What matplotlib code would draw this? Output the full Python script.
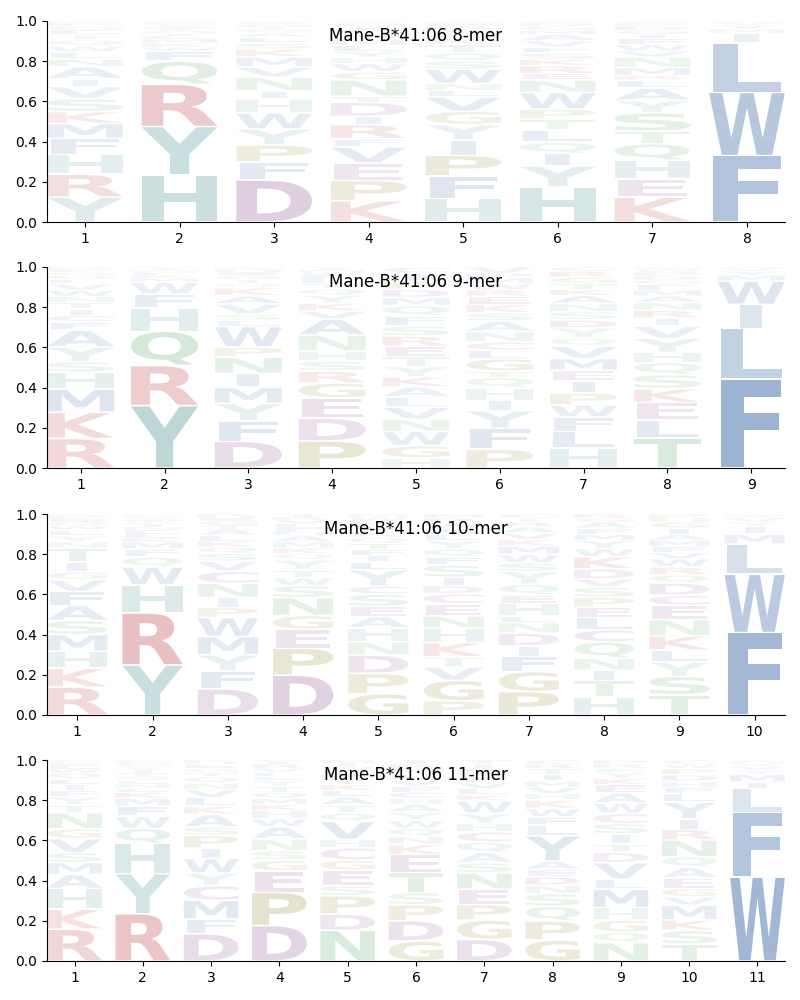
import matplotlib
matplotlib.use('Agg')
import matplotlib.pyplot as plt
from matplotlib.textpath import TextPath
from matplotlib.patches import PathPatch
from matplotlib.font_manager import FontProperties
from matplotlib.transforms import Affine2D

# letters per position, bottom -> top, value = percent of the column
allele = 'Mane-B*41:06'
lengths = [8, 9, 10, 11]

mer8 = [
    "Y12.5 R11.5 H10 F8 M7.5 K6 S6.5 V6 I4 A6 N4 L3.5 W3 Q3 T3 E2 G2 P1.5 C0.5 D0.5",
    "H23.5 Y24 R21 Q11.5 F5 W2 K2 M2 L1.5 I1 N1 S1 T1 E0.5 V0.5 A0.5 G0.5 P0.5 D0.5 C0.5",
    "D21 F9 P8.5 Y8 W8 H7 I4 N7 V5 M5 K4 S3 L3 A2 Q2 T1.5 G1 E0.5 R0.5 C0.5",
    "K10.5 P10 E8.5 V8 F4 R7 I4 D7 T3 N8 G4 W4 H3 Y3 L3 M3 S3 A3 Q2 C1",
    "H11.5 F11 P10 I7.5 Y7.5 G6.5 V7 L3 N3.5 W7 S4 Q4 T4 K3 M2.5 A2 R1.5 E1 D1 C0.5",
    "H17 Y10 I6 Q5.5 L6 T5 P5 W8 N6 E3 R4 K3 S3 F3 V3 A3 M2 G2 D1.5 C1",
    "K12 E9 H9 Q8 T6 S9 Y6 A6 L4 R2 M4 N5 V3 W3 F3 I2 G2 D2 P1.5 C1",
    "F33 W31.5 L24.5 I5 M2 Y2 V1.5 A0.3 H0.2",
]

mer9 = [
    "R14 K12.5 M11 H8 S5 Y7 A8 F4 C3 I3 T3 N3 W3 V3 L2 Q2 G1.5 E1 P1 D0.5",
    "Y31 R20 Q17 H11.5 F7 W6 M2 K1.5 L1 N1 S0.5 T0.5 I0.5 V0.5",
    "D13 F10 Y8.5 M8 I6.5 N8 P5 W10 L3 S3 V5 A4 K4 Q2 T2 G2 E1.5 H1 R1 C0.5",
    "P13.5 D11.5 E10 G7.5 R6 S5 H5 N8 A8 V4 K4 Y4 Q3 T3 L2 F2 W1.5 M1 I1 C0.5",
    "H5 G6 W7 N6 V6 L5 A5 K5 Y5 T5 E5 R5 S5 F5 Q5 M4 D4 P4 I4 C3",
    "P9 F10 Y8.5 I5 H6 Q5 T3 G6 L4 C4 N5 A5 S4 K4 E4 R3 W3 M3 D2 V3",
    "H10 L8 F7 W6 P6 I6 E5 M6 V6 Q4 Y5 D4 S4 N4 A4 K3 T3 G3 R3 C2",
    "T15 L9 E8.5 K7 S7 Q6 H5 Y7 V6 I4 R4 N4 A3 M3 F3 G2 D2 P2 W1.5 C1",
    "F44 L25 I12 W11.5 M3 Y2 V1.5 A0.5",
]

mer10 = [
    "R14 K9.5 H8.5 M8.5 S7 A7.5 F7 V6 G4 I5 T7 N3 Y3 L3 W2 Q2 E1.5 P1 D1 C0.5",
    "Y25 R26 H14 W9 Q5 F4 M3.5 K2 L2 E2 N1.5 I1.5 S1 T1 A0.5 V0.5 D0.5 G0.5 P0.5 C0.5",
    "D13 F9 Y8 M9 W9.5 P5 I5 N7 C6 V5 S4 Q3 K3 L3 A3 T2 G2 E1.5 H1 R1",
    "D20 P13.5 E9.5 G7 N9 S6 W4 T4 Y5 Q3 K3 M3 A3 H2 F2 L2 V2 R1.5 I1 C0.5",
    "G10.5 P10 D9 N6.5 H7 A5.5 E5 S6 C4 Y8 L4 I3 F3 T3 Q3 K3 V3 R2 W2 M1.5",
    "P7 G10 V6.5 T5 K7 H7 N6 E6 C5 D4 I4 S6 F4 Q4 Y4 L3 A3 W3 R2 M2",
    "P11 G9.5 F7 I5 D6 N5 L3 H6 E4 Q5 Y6 S4 W4 M4 K3 V3 A3 R2 T2 C2",
    "H9 T8 I5 N6 Q8 C6 L6 E5 P5 S5 V4 D5 K6 W4 Y4 M3 F3 A3 G2 R2",
    "T10 S9 Y7 L6 K7 N8 E7 C5 D6 Q4 R4 W4 V3 F3 M3 A3 I3 G3 H2 P2",
    "F41 W29 L15 M5 I4 Y2 V2 A1 H0.5 C0.5",
]

mer11 = [
    "R16 K10 H10.5 A7 M6 S5 V7 G5 N8 T4 Y4 F3 I3 L3 Q3 W2 E2 D1 P1 C0.5",
    "R23.5 Y20 H15 Q7.5 W6 F5 M4 K3 L2 N2 E2 S2 T1.5 I1.5 A1 V1 G1 D1 P0.5 C0.5",
    "D13 F7 M9 C7 Y6 W7 I5 P6 S4 A6 K4 L4 V4 N3 Q3 T2 G2 E2 H1 R1",
    "D17.5 P16.5 E10.5 G5.5 S4.5 N6 A6 W4 H4 K3 M3 Q3 T3 Y3 L2 F2 V2 R2 I1 C1",
    "N15 D8 P9 S5 E7.5 G5 C6 H4 V9 Q4 T4 A4 L3 K3 Y3 R2 F2 W2 I1.5 M1.5",
    "G10 D10 P8 S6 T10 E9 K5 N4 Q4 W4 Y4 A4 H3 C3 F3 V3 L3 M3 R2 I2",
    "D10.5 G9.5 P7.5 E7.5 N8 S5 A5 Q5 C5 H4 Y5 W6 K3 L3 V3 F3 M2 R2 I2 T2",
    "G10 P9 Q7 S6 N4 D4 E3.5 A4 Y12 L5 F4 W4 K4 H3 V3 M3 I3 T3 R2 C2",
    "N9 Q5 G6 H6 M9 L5 V8 D5 T4 I5 S5 C5 W5 A5 E4 K3 Y3 F2 R2 P2",
    "T8 S6.5 K5 M7 V4 G4 E5 A5 Q5 N8 R5 I5 Y8 L4 F3 H3 D3 P3 W2 C2",
    "W41.5 F32 L12 I3 M4 Y2 V2 A1 H1 C1",
]

panels = [mer8, mer9, mer10, mer11]

# colour per residue group
colors = {}
for aa in 'AVLIMFW':
    colors[aa] = '#4e77af'
for aa in 'HY':
    colors[aa] = '#5f9e9e'
for aa in 'KR':
    colors[aa] = '#c44e52'
for aa in 'DEC':
    colors[aa] = '#965a96'
for aa in 'STNQ':
    colors[aa] = '#55a868'
for aa in 'GP':
    colors[aa] = '#8f8a2e'

FP = FontProperties(family='DejaVu Sans', weight='bold')
I_W = TextPath((0, 0), 'I', size=1, prop=FP).get_extents().width
REF_W = I_W / 0.33


def draw_letter(ax, ch, x, y0, h, width=0.8):
    tp = TextPath((0, 0), ch, size=1, prop=FP)
    bb = tp.get_extents()
    pad = min(0.004, h * 0.1)
    sy = (h - 2 * pad) / bb.height
    sx = min(width / bb.width, width / REF_W)
    gw = bb.width * sx
    tr = (Affine2D().translate(-bb.x0, -bb.y0).scale(sx, sy)
          .translate(x - gw / 2, y0 + pad))
    path = tr.transform_path(tp)
    return path


def parse(col):
    out = []
    for tok in col.split():
        out.append((tok[0], float(tok[1:])))
    tot = sum(v for _, v in out)
    return [(a, v / tot) for a, v in out]


fig = plt.figure(figsize=(8, 10), dpi=100)
tops = [0.979, 0.733, 0.486, 0.240]

for k, (n, cols) in enumerate(zip(lengths, panels)):
    ax = fig.add_axes([0.059, tops[k] - 0.201, 0.922, 0.201])
    for i, col in enumerate(cols):
        y = 0.0
        for aa, f in parse(col):
            path = draw_letter(ax, aa, i + 1, y, f)
            alpha = min(1.0, 0.05 + 1.15 * f)
            ax.add_patch(PathPatch(path, facecolor=colors[aa], edgecolor='none',
                                   alpha=alpha))
            y += f
    ax.set_xlim(0.6, n + 0.4)
    ax.set_ylim(0, 1)
    ax.set_xticks(range(1, n + 1))
    ax.spines['top'].set_visible(False)
    ax.spines['right'].set_visible(False)
    ax.text(0.5, 0.925, f'{allele} {n}-mer', transform=ax.transAxes,
            ha='center', va='center', fontsize=12)

fig.savefig('out.png', dpi=100)
